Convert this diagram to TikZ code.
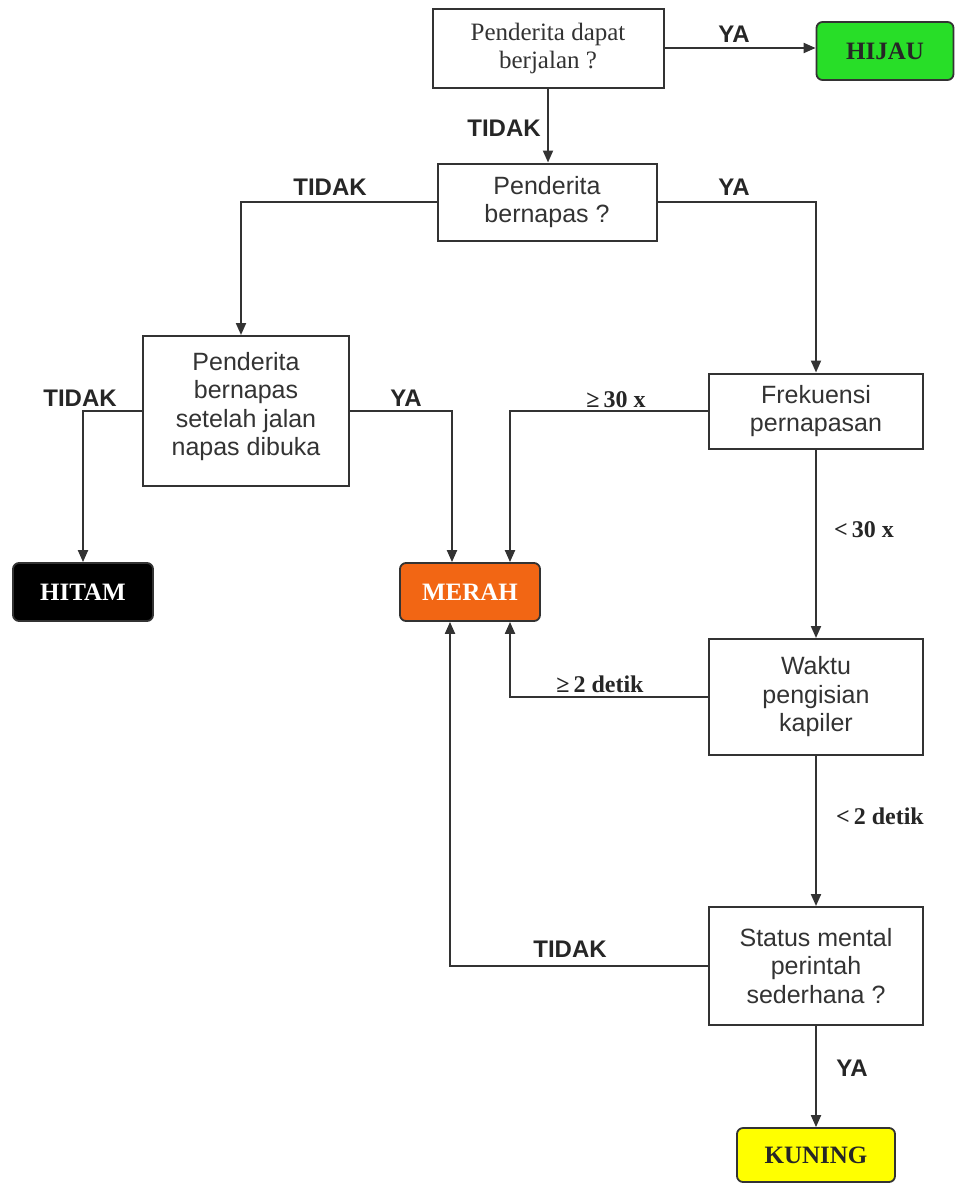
\documentclass[tikz,border=0pt]{standalone}
\usepackage{fontspec}
\setmainfont{Liberation Serif}
\setsansfont{Liberation Sans}
\usetikzlibrary{arrows.meta,positioning}
\definecolor{linec}{HTML}{333333}
\definecolor{txtc}{HTML}{333333}
\definecolor{hijauc}{RGB}{40,222,40}
\definecolor{merahc}{RGB}{242,102,20}
\definecolor{kuningc}{RGB}{255,255,0}
\tikzset{
  qbox/.style={draw=linec, line width=2pt, fill=white, inner sep=0pt, align=center,
    text=txtc, font=\sffamily\fontsize{25}{28.5}\selectfont},
  sbox/.style={qbox, font=\rmfamily\fontsize{25}{28}\selectfont},
  cbox/.style={draw=linec, line width=1.8pt, rounded corners=6pt, inner sep=0pt,
    minimum width=140pt, minimum height=58pt, font=\rmfamily\bfseries\fontsize{25}{28}\selectfont},
  arr/.style={draw=linec, line width=2pt, -{Triangle[length=12pt,width=10pt]}},
  lab/.style={font=\sffamily\bfseries\fontsize{24}{26}\selectfont, text=black!85, inner sep=0pt},
  slab/.style={font=\rmfamily\bfseries\fontsize{24}{26}\selectfont, text=black!85, inner sep=0pt},
}
\begin{document}
\begin{tikzpicture}[x=1pt,y=-1pt]
\useasboundingbox (0,0) rectangle (955,1183);
% decision boxes
\node[sbox, minimum width=231pt, minimum height=79pt] (q1) at (548,48) {Penderita dapat\\berjalan ?};
\node[qbox, minimum width=219pt, minimum height=77pt] (q2) at (547,202) {Penderita\\bernapas ?};
\node[qbox, minimum width=206pt, minimum height=150pt] (q3) at (246,411) {Penderita\\bernapas\\setelah jalan\\napas dibuka\\[-14pt]\mbox{}};
\node[qbox, minimum width=214pt, minimum height=75pt] (q4) at (816,411) {Frekuensi\\pernapasan};
\node[qbox, minimum width=214pt, minimum height=116pt] (q5) at (816,697) {Waktu\\pengisian\\kapiler};
\node[qbox, minimum width=214pt, minimum height=118pt] (q6) at (816,966) {Status mental\\perintah\\sederhana ?};
% result boxes
\node[cbox, fill=hijauc, text=black!85, minimum width=137pt] (hijau) at (885,51) {HIJAU};
\node[cbox, fill=black, text=white] (hitam) at (83,592) {HITAM};
\node[cbox, fill=merahc, text=white] (merah) at (470,592) {MERAH};
\node[cbox, fill=kuningc, text=black!85, minimum width=158pt, minimum height=54pt] (kuning) at (816,1155) {KUNING};
% connectors
\draw[arr] (q1.east) -- (q1.east -| hijau.west);
\draw[arr] (q1.south) -- (q1.south |- q2.north);
\draw[arr] (q2.west) -| ([xshift=-5pt]q3.north);
\draw[arr] (q2.east) -| (q4.north);
\draw[arr] (q3.west) -| (hitam.north);
\draw[arr] (q3.east) -| ([xshift=-18pt]merah.north);
\draw[arr] (q4.west) -| ([xshift=40pt]merah.north);
\draw[arr] (q4.south) -- (q5.north);
\draw[arr] (q5.west) -| ([xshift=40pt]merah.south);
\draw[arr] (q5.south) -- (q6.north);
\draw[arr] (q6.west) -| ([xshift=-20pt]merah.south);
\draw[arr] (q6.south) -- (kuning.north);
% labels
\node[lab] (l1) at (734,34) {YA};
\node[lab] (l2) at (504,128) {TIDAK};
\node[lab] (l3) at (330,187) {TIDAK};
\node[lab] (l4) at (734,187) {YA};
\node[lab] (l5) at (80,398) {TIDAK};
\node[lab] (l6) at (406,398) {YA};
\node[slab] (l7) at (616,400) {≥\,30 x};
\node[slab] (l8) at (864,530) {<\,30 x};
\node[slab] (l9) at (600,684) {≥\,2 detik};
\node[slab] (l10) at (880,816) {<\,2 detik};
\node[lab] (l11) at (570,949) {TIDAK};
\node[lab] (l12) at (852,1068) {YA};
\end{tikzpicture}
\end{document}
